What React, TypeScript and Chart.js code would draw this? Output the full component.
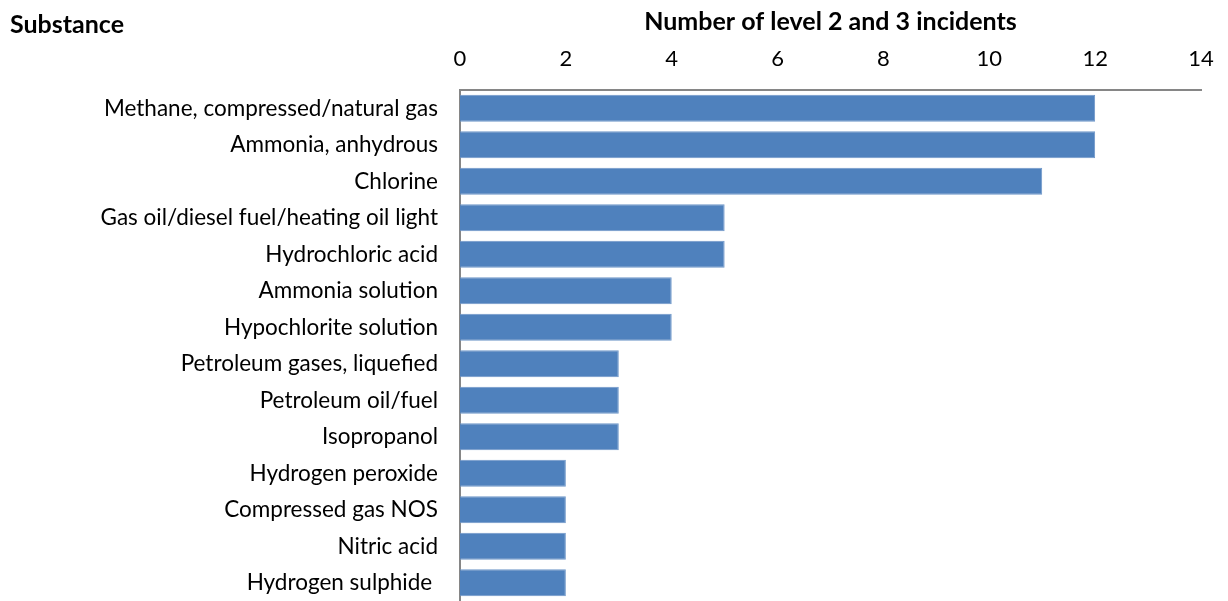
import React, { useEffect, useRef } from "react";
import { Chart, registerables } from "chart.js";

Chart.register(...registerables);

const categories = [
  "Methane, compressed/natural gas",
  "Ammonia, anhydrous",
  "Chlorine",
  "Gas oil/diesel fuel/heating oil light",
  "Hydrochloric acid",
  "Ammonia solution",
  "Hypochlorite solution",
  "Petroleum gases, liquefied",
  "Petroleum oil/fuel",
  "Isopropanol",
  "Hydrogen peroxide",
  "Compressed gas NOS",
  "Nitric acid",
  "Hydrogen sulphide ",
];
const incidents = [12, 12, 11, 5, 5, 4, 4, 3, 3, 3, 2, 2, 2, 2];
const xTitle = "Number of level 2 and 3 incidents";
const yTitle = "Substance";

const FONT = "Lato, 'Liberation Sans', sans-serif";

export default function App() {
  const ref = useRef<HTMLCanvasElement>(null);
  useEffect(() => {
    document.body.style.margin = "0";
    const ctx = ref.current!.getContext("2d")!;
    const yTitlePlugin = {
      id: "yTitle",
      afterDraw(chart: any) {
        const c = chart.ctx;
        c.save();
        c.font = `bold 25px ${FONT}`;
        c.fillStyle = "#000";
        c.textAlign = "left";
        c.textBaseline = "middle";
        c.fillText(yTitle, 10, 25);
        c.restore();
      },
    };
    const chart = new Chart(ctx, {
      type: "bar",
      data: {
        labels: categories,
        datasets: [
          {
            data: incidents,
            backgroundColor: "#4F81BD",
            borderColor: "#6F97C9",
            borderWidth: 1,
            barPercentage: 0.74,
            categoryPercentage: 1,
          },
        ],
      },
      options: {
        indexAxis: "y",
        animation: false,
        responsive: false,
        maintainAspectRatio: false,
        layout: { padding: { top: 7, left: 0, right: 27, bottom: 0 } },
        plugins: { legend: { display: false }, tooltip: { enabled: false } },
        scales: {
          x: {
            position: "top",
            min: 0,
            max: 14,
            ticks: {
              stepSize: 2,
              color: "#000",
              font: { family: FONT, size: 22 },
              padding: 18,
              maxRotation: 0,
            },
            grid: { display: false, drawTicks: false },
            border: { display: true, color: "#868686", width: 2 },
            title: {
              display: true,
              text: xTitle,
              color: "#000",
              font: { family: FONT, size: 25, weight: "bold" },
              padding: { top: 0, bottom: 8 },
            },
            afterFit(scale: any) {
              scale.height = 83;
              scale.paddingRight = 0;
            },
          },
          y: {
            ticks: {
              color: "#000",
              font: { family: FONT, size: 22.5 },
              padding: 22,
            },
            grid: { display: false, drawTicks: false },
            border: { display: true, color: "#868686", width: 2 },
            afterFit(scale: any) {
              scale.width = 460;
              scale.paddingTop = 0;
              scale.paddingBottom = 0;
            },
          },
        },
      },
      plugins: [yTitlePlugin],
    });
    return () => chart.destroy();
  }, []);
  return (
    <div style={{ position: "fixed", left: 0, top: 0, width: 1228, height: 601 }}>
      <canvas ref={ref} width={1228} height={601} />
    </div>
  );
}
